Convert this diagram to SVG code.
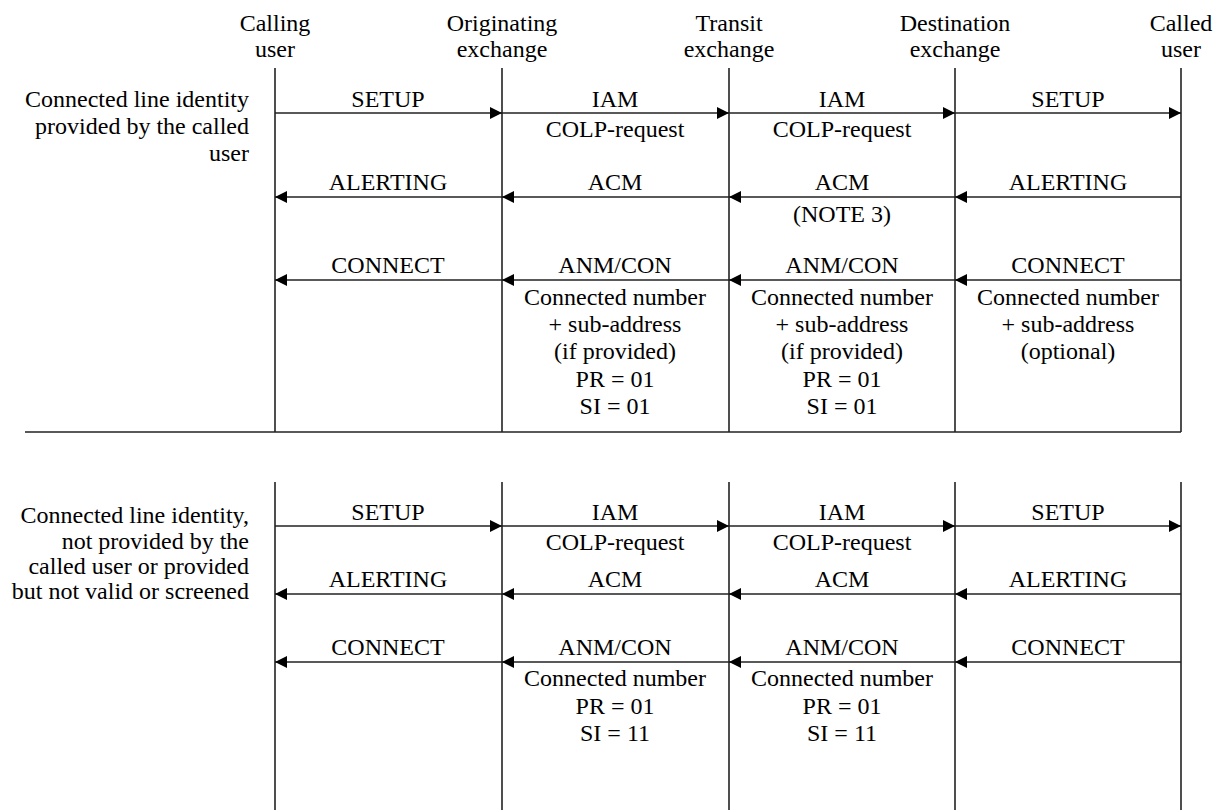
<svg xmlns="http://www.w3.org/2000/svg" width="1226" height="810" viewBox="0 0 1226 810" font-family="'Liberation Serif', 'Times New Roman', Times, serif">
<defs>
<style>
text{font-family:'Liberation Serif','Times New Roman',Times,serif;font-size:24px;fill:#000}
.c{text-anchor:middle}
.r{text-anchor:end}
.life{stroke:#222;stroke-width:1.6;fill:none}
.msg{stroke:#222;stroke-width:1.6;fill:none;marker-end:url(#ah)}
</style>
<marker id="ah" viewBox="0 0 12 12" refX="12" refY="6" markerWidth="12" markerHeight="12" markerUnits="userSpaceOnUse" orient="auto">
<path d="M0,0 L12,6 L0,12 Z" fill="#000"/>
</marker>
</defs>
<rect width="1226" height="810" fill="#fff"/>

<g id="calling-user">
<text class="c" x="275" y="31">Calling</text>
<text class="c" x="275" y="57">user</text>
<line class="life" x1="275" y1="68" x2="275" y2="432"/>
<line class="life" x1="275" y1="482" x2="275" y2="810"/>
</g>
<g id="originating-exchange">
<text class="c" x="502" y="31">Originating</text>
<text class="c" x="502" y="57">exchange</text>
<line class="life" x1="502" y1="68" x2="502" y2="432"/>
<line class="life" x1="502" y1="482" x2="502" y2="810"/>
</g>
<g id="transit-exchange">
<text class="c" x="729" y="31">Transit</text>
<text class="c" x="729" y="57">exchange</text>
<line class="life" x1="729" y1="68" x2="729" y2="432"/>
<line class="life" x1="729" y1="482" x2="729" y2="810"/>
</g>
<g id="destination-exchange">
<text class="c" x="955" y="31">Destination</text>
<text class="c" x="955" y="57">exchange</text>
<line class="life" x1="955" y1="68" x2="955" y2="432"/>
<line class="life" x1="955" y1="482" x2="955" y2="810"/>
</g>
<g id="called-user">
<text class="c" x="1181" y="31">Called</text>
<text class="c" x="1181" y="57">user</text>
<line class="life" x1="1181" y1="68" x2="1181" y2="432"/>
<line class="life" x1="1181" y1="482" x2="1181" y2="810"/>
</g>

<g id="separator">
<line class="life" x1="25" y1="432" x2="1181" y2="432"/>
</g>

<g id="case-labels">
<text class="r" x="249" y="107">Connected line identity</text>
<text class="r" x="249" y="134">provided by the called</text>
<text class="r" x="249" y="161">user</text>
<text class="r" x="249" y="523">Connected line identity,</text>
<text class="r" x="249" y="549">not provided by the</text>
<text class="r" x="249" y="574">called user or provided</text>
<text class="r" x="249" y="599">but not valid or screened</text>
</g>

<g id="connectors">
<line class="msg" x1="275" y1="113" x2="502" y2="113"/>
<line class="msg" x1="502" y1="113" x2="729" y2="113"/>
<line class="msg" x1="729" y1="113" x2="955" y2="113"/>
<line class="msg" x1="955" y1="113" x2="1181" y2="113"/>
<line class="msg" x1="502" y1="197" x2="275" y2="197"/>
<line class="msg" x1="729" y1="197" x2="502" y2="197"/>
<line class="msg" x1="955" y1="197" x2="729" y2="197"/>
<line class="msg" x1="1181" y1="197" x2="955" y2="197"/>
<line class="msg" x1="502" y1="280" x2="275" y2="280"/>
<line class="msg" x1="729" y1="280" x2="502" y2="280"/>
<line class="msg" x1="955" y1="280" x2="729" y2="280"/>
<line class="msg" x1="1181" y1="280" x2="955" y2="280"/>
<line class="msg" x1="275" y1="526" x2="502" y2="526"/>
<line class="msg" x1="502" y1="526" x2="729" y2="526"/>
<line class="msg" x1="729" y1="526" x2="955" y2="526"/>
<line class="msg" x1="955" y1="526" x2="1181" y2="526"/>
<line class="msg" x1="502" y1="594" x2="275" y2="594"/>
<line class="msg" x1="729" y1="594" x2="502" y2="594"/>
<line class="msg" x1="955" y1="594" x2="729" y2="594"/>
<line class="msg" x1="1181" y1="594" x2="955" y2="594"/>
<line class="msg" x1="502" y1="662" x2="275" y2="662"/>
<line class="msg" x1="729" y1="662" x2="502" y2="662"/>
<line class="msg" x1="955" y1="662" x2="729" y2="662"/>
<line class="msg" x1="1181" y1="662" x2="955" y2="662"/>
</g>

<g id="labels-top">
<text class="c" x="388" y="107">SETUP</text>
<text class="c" x="615" y="107">IAM</text>
<text class="c" x="615" y="137">COLP-request</text>
<text class="c" x="842" y="107">IAM</text>
<text class="c" x="842" y="137">COLP-request</text>
<text class="c" x="1068" y="107">SETUP</text>

<text class="c" x="388" y="190">ALERTING</text>
<text class="c" x="615" y="190">ACM</text>
<text class="c" x="842" y="190">ACM</text>
<text class="c" x="842" y="222">(NOTE 3)</text>
<text class="c" x="1068" y="190">ALERTING</text>

<text class="c" x="388" y="273">CONNECT</text>
<text class="c" x="615" y="273">ANM/CON</text>
<text class="c" x="615" y="305">Connected number</text>
<text class="c" x="615" y="332">+ sub-address</text>
<text class="c" x="615" y="359">(if provided)</text>
<text class="c" x="615" y="386.5">PR = 01</text>
<text class="c" x="615" y="414">SI = 01</text>
<text class="c" x="842" y="273">ANM/CON</text>
<text class="c" x="842" y="305">Connected number</text>
<text class="c" x="842" y="332">+ sub-address</text>
<text class="c" x="842" y="359">(if provided)</text>
<text class="c" x="842" y="386.5">PR = 01</text>
<text class="c" x="842" y="414">SI = 01</text>
<text class="c" x="1068" y="273">CONNECT</text>
<text class="c" x="1068" y="305">Connected number</text>
<text class="c" x="1068" y="332">+ sub-address</text>
<text class="c" x="1068" y="359">(optional)</text>
</g>

<g id="labels-bottom">
<text class="c" x="388" y="520">SETUP</text>
<text class="c" x="615" y="520">IAM</text>
<text class="c" x="615" y="550">COLP-request</text>
<text class="c" x="842" y="520">IAM</text>
<text class="c" x="842" y="550">COLP-request</text>
<text class="c" x="1068" y="520">SETUP</text>

<text class="c" x="388" y="587">ALERTING</text>
<text class="c" x="615" y="587">ACM</text>
<text class="c" x="842" y="587">ACM</text>
<text class="c" x="1068" y="587">ALERTING</text>

<text class="c" x="388" y="655">CONNECT</text>
<text class="c" x="615" y="655">ANM/CON</text>
<text class="c" x="615" y="686">Connected number</text>
<text class="c" x="615" y="713.5">PR = 01</text>
<text class="c" x="615" y="741">SI = 11</text>
<text class="c" x="842" y="655">ANM/CON</text>
<text class="c" x="842" y="686">Connected number</text>
<text class="c" x="842" y="713.5">PR = 01</text>
<text class="c" x="842" y="741">SI = 11</text>
<text class="c" x="1068" y="655">CONNECT</text>
</g>
</svg>
